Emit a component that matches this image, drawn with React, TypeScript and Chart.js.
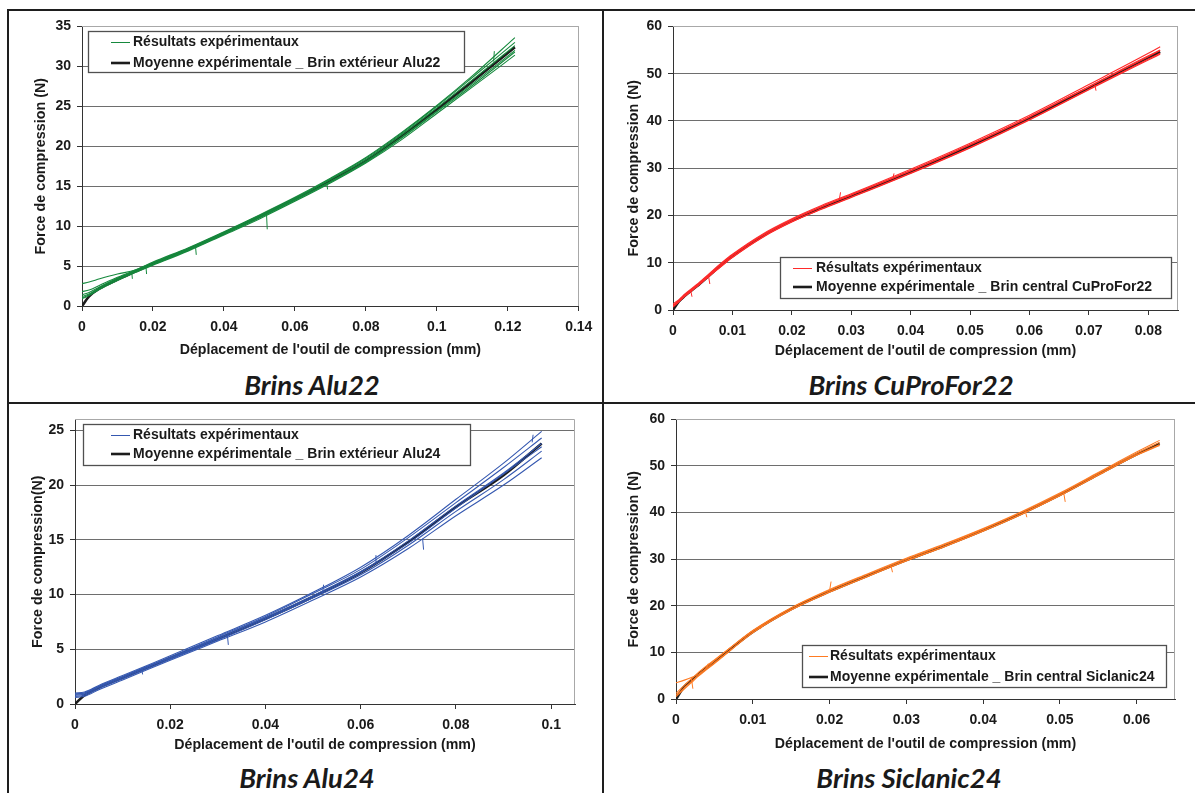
import React, { useEffect, useRef } from "react";
import { Chart, registerables } from "chart.js";
Chart.register(...registerables);

const FONT = "'Liberation Sans', Arial, sans-serif";
const TEXT = "#1a1a1a";

// ---------- Alu22 ----------
const ALU22_X = [0, 0.002, 0.005, 0.01, 0.015, 0.02, 0.03, 0.04, 0.05, 0.06, 0.07, 0.08, 0.09, 0.1, 0.11, 0.122];
const ALU22_MEAN = [0, 1.2, 2.2, 3.3, 4.3, 5.3, 7.1, 9.1, 11.2, 13.4, 15.7, 18.2, 21.3, 24.6, 28.1, 32.4];
const ALU22_EXP_1 = [2.8, 3.0, 3.4, 4.0, 4.5, 5.5, 7.3, 9.3, 11.4, 13.6, 16.0, 18.6, 21.7, 25.1, 28.8, 33.6];
const ALU22_EXP_2 = [1.8, 2.0, 2.6, 3.6, 4.5, 5.4, 7.2, 9.2, 11.3, 13.5, 15.9, 18.5, 21.6, 25.0, 28.6, 33.0];
const ALU22_EXP_3 = [1.4, 1.7, 2.4, 3.5, 4.4, 5.3, 7.1, 9.1, 11.2, 13.4, 15.8, 18.3, 21.4, 24.8, 28.3, 32.6];
const ALU22_EXP_4 = [1.0, 1.4, 2.2, 3.3, 4.3, 5.2, 7.0, 9.0, 11.1, 13.3, 15.6, 18.1, 21.1, 24.4, 27.8, 32.0];
const ALU22_EXP_5 = [0.9, 1.3, 2.1, 3.2, 4.2, 5.1, 6.9, 8.9, 10.9, 13.1, 15.4, 17.9, 20.8, 24.1, 27.4, 31.4];
const ALU22_EXP_6 = [1.2, 1.5, 2.3, 3.4, 4.3, 5.2, 7.0, 9.0, 11.0, 13.2, 15.5, 18.0, 21.0, 24.3, 27.6, 31.8];
const ALU22_SPIKE_X = [0.014, 0.018, 0.032, 0.052, 0.069, 0.116];
const ALU22_SPIKE_FROM = [4.3, 5.0, 7.4, 11.5, 15.4, 30.6];
const ALU22_SPIKE_TO = [3.4, 4.0, 6.4, 9.6, 14.6, 31.9];
const ALU22_X_TICKS = [0, 0.02, 0.04, 0.06, 0.08, 0.1, 0.12, 0.14];
const ALU22_Y_TICKS = [0, 5, 10, 15, 20, 25, 30, 35];

// ---------- CuProFor22 ----------
const CU_X = [0, 0.001, 0.002, 0.004, 0.006, 0.008, 0.01, 0.015, 0.02, 0.025, 0.03, 0.04, 0.05, 0.06, 0.07, 0.08, 0.082];
const CU_MEAN = [0, 1.8, 3.0, 5.0, 7.2, 9.4, 11.4, 15.6, 18.9, 21.6, 24.1, 29.2, 34.7, 40.6, 47.0, 53.4, 54.6];
const CU_EXP_1 = [1.3, 2.2, 3.4, 5.4, 7.6, 9.8, 11.8, 16.0, 19.3, 22.1, 24.6, 29.8, 35.3, 41.2, 47.7, 54.3, 55.7];
const CU_EXP_2 = [0.9, 2.0, 3.2, 5.2, 7.4, 9.6, 11.6, 15.8, 19.1, 21.9, 24.4, 29.5, 35.0, 40.9, 47.3, 53.8, 55.0];
const CU_EXP_3 = [0.6, 1.7, 2.9, 4.9, 7.1, 9.2, 11.2, 15.4, 18.7, 21.4, 23.9, 29.0, 34.4, 40.3, 46.7, 53.1, 54.3];
const CU_EXP_4 = [1.0, 1.9, 3.0, 5.0, 7.0, 9.1, 11.1, 15.3, 18.6, 21.3, 23.8, 28.9, 34.3, 40.2, 46.6, 52.9, 54.1];
const CU_EXP_5 = [0.8, 1.8, 3.1, 5.1, 7.3, 9.5, 11.5, 15.7, 19.0, 21.8, 24.3, 29.4, 34.9, 40.8, 47.2, 53.6, 54.9];
const CU_SPIKE_X = [0.003, 0.006, 0.028, 0.037, 0.071];
const CU_SPIKE_FROM = [4.0, 7.0, 23.4, 27.8, 47.7];
const CU_SPIKE_TO = [2.8, 5.5, 24.9, 28.9, 46.4];
const CU_X_TICKS = [0, 0.01, 0.02, 0.03, 0.04, 0.05, 0.06, 0.07, 0.08];
const CU_Y_TICKS = [0, 10, 20, 30, 40, 50, 60];

// ---------- Alu24 ----------
const ALU24_X = [0, 0.002, 0.005, 0.01, 0.015, 0.02, 0.03, 0.04, 0.05, 0.06, 0.07, 0.08, 0.09, 0.098];
const ALU24_MEAN = [0, 0.8, 1.5, 2.4, 3.3, 4.2, 5.95, 7.8, 9.8, 12.0, 14.8, 18.0, 20.9, 23.8];
const ALU24_EXP_1 = [1.0, 1.1, 1.7, 2.6, 3.5, 4.4, 6.25, 8.1, 10.2, 12.5, 15.4, 18.7, 22.0, 24.9];
const ALU24_EXP_2 = [0.9, 1.0, 1.6, 2.5, 3.4, 4.3, 6.15, 8.0, 10.1, 12.3, 15.2, 18.4, 21.6, 24.3];
const ALU24_EXP_3 = [0.8, 0.9, 1.5, 2.4, 3.3, 4.2, 6.05, 7.9, 9.9, 12.1, 14.9, 18.1, 21.1, 23.8];
const ALU24_EXP_4 = [0.7, 0.8, 1.4, 2.3, 3.2, 4.1, 5.85, 7.7, 9.7, 11.8, 14.5, 17.6, 20.5, 23.1];
const ALU24_EXP_5 = [0.6, 0.7, 1.3, 2.2, 3.1, 4.0, 5.75, 7.5, 9.5, 11.6, 14.2, 17.2, 20.0, 22.5];
const ALU24_EXP_6 = [0.9, 1.0, 1.6, 2.5, 3.4, 4.2, 5.95, 7.8, 9.8, 12.0, 14.7, 17.9, 21.0, 23.5];
const ALU24_SPIKE_X = [0.014, 0.032, 0.052, 0.063, 0.073, 0.096];
const ALU24_SPIKE_FROM = [3.2, 6.3, 10.1, 12.9, 15.1, 23.9];
const ALU24_SPIKE_TO = [2.7, 5.4, 10.9, 13.6, 14.1, 24.6];
const ALU24_X_TICKS = [0, 0.02, 0.04, 0.06, 0.08, 0.1];
const ALU24_Y_TICKS = [0, 5, 10, 15, 20, 25];

// ---------- Siclanic24 ----------
const SIC_X = [0, 0.001, 0.002, 0.003, 0.005, 0.007, 0.01, 0.015, 0.02, 0.025, 0.03, 0.035, 0.04, 0.045, 0.05, 0.055, 0.06, 0.063];
const SIC_MEAN = [0, 2.5, 4.0, 5.4, 8.0, 10.6, 14.4, 19.3, 23.1, 26.5, 29.8, 32.9, 36.2, 39.8, 43.8, 48.2, 52.5, 54.8];
const SIC_EXP_1 = [3.5, 4.0, 4.6, 5.4, 8.2, 10.9, 14.7, 19.6, 23.5, 26.9, 30.2, 33.3, 36.6, 40.2, 44.2, 48.6, 53.0, 55.5];
const SIC_EXP_2 = [1.2, 2.8, 4.3, 5.8, 8.4, 10.9, 14.6, 19.5, 23.3, 26.7, 30.0, 33.1, 36.4, 40.0, 44.0, 48.4, 52.7, 55.1];
const SIC_EXP_3 = [0.5, 2.0, 3.5, 5.0, 7.6, 10.3, 14.2, 19.1, 22.9, 26.3, 29.6, 32.7, 36.0, 39.6, 43.6, 48.0, 52.3, 54.4];
const SIC_EXP_4 = [0.8, 2.3, 3.8, 5.2, 7.8, 10.4, 14.3, 19.2, 23.0, 26.4, 29.7, 32.8, 36.1, 39.7, 43.7, 48.1, 52.4, 54.6];
const SIC_SPIKE_X = [0.002, 0.004, 0.011, 0.02, 0.028, 0.0455, 0.0505];
const SIC_SPIKE_FROM = [4.5, 6.6, 15.0, 23.2, 28.6, 40.3, 44.3];
const SIC_SPIKE_TO = [2.2, 7.6, 15.9, 25.2, 27.2, 39.0, 42.3];
const SIC_X_TICKS = [0, 0.01, 0.02, 0.03, 0.04, 0.05, 0.06];
const SIC_Y_TICKS = [0, 10, 20, 30, 40, 50, 60];

const EXP_LABEL = "Résultats expérimentaux";
const X_TITLE = "Déplacement de l'outil de compression (mm)";

type Rect = { l: number; t: number; r: number; b: number };
type Panel = {
  color: string;
  xs: number[];
  mean: number[];
  exps: number[][];
  spikeX: number[];
  spikeFrom: number[];
  spikeTo: number[];
  xTicks: number[];
  yTicks: number[];
  xMax: number;
  yMax: number;
  meanLabel: string;
  yTitle: string;
  canvas: Rect;
  plot: Rect;
  yTitleX: number;
  xTitleY: number;
  legend: { box: Rect; rowY: number[]; sample: [number, number]; textX: number };
  caption: string;
  captionX: number;
  captionY: number;
};

const PANELS: Panel[] = [
  {
    color: "#16893d",
    xs: ALU22_X, mean: ALU22_MEAN,
    exps: [ALU22_EXP_1, ALU22_EXP_2, ALU22_EXP_3, ALU22_EXP_4, ALU22_EXP_5, ALU22_EXP_6],
    spikeX: ALU22_SPIKE_X, spikeFrom: ALU22_SPIKE_FROM, spikeTo: ALU22_SPIKE_TO,
    xTicks: ALU22_X_TICKS, yTicks: ALU22_Y_TICKS, xMax: 0.14, yMax: 35,
    meanLabel: "Moyenne expérimentale _ Brin extérieur Alu22",
    yTitle: "Force de compression (N)",
    canvas: { l: 10, t: 12, r: 600, b: 362 },
    plot: { l: 82, t: 25, r: 582, b: 306 },
    yTitleX: 41, xTitleY: 350,
    legend: { box: { l: 88, t: 31, r: 464, b: 72 }, rowY: [42, 63], sample: [111, 130], textX: 133 },
    caption: "Brins Alu22", captionX: 312, captionY: 385,
  },
  {
    color: "#ff2a2a",
    xs: CU_X, mean: CU_MEAN,
    exps: [CU_EXP_1, CU_EXP_2, CU_EXP_3, CU_EXP_4, CU_EXP_5],
    spikeX: CU_SPIKE_X, spikeFrom: CU_SPIKE_FROM, spikeTo: CU_SPIKE_TO,
    xTicks: CU_X_TICKS, yTicks: CU_Y_TICKS, xMax: 0.085, yMax: 60,
    meanLabel: "Moyenne expérimentale _ Brin central CuProFor22",
    yTitle: "Force de compression (N)",
    canvas: { l: 605, t: 12, r: 1193, b: 363 },
    plot: { l: 673, t: 25, r: 1178, b: 310 },
    yTitleX: 634, xTitleY: 351,
    legend: { box: { l: 780, t: 257, r: 1171, b: 298 }, rowY: [268, 287], sample: [793, 812], textX: 816 },
    caption: "Brins CuProFor22", captionX: 911, captionY: 385,
  },
  {
    color: "#3558b0",
    xs: ALU24_X, mean: ALU24_MEAN,
    exps: [ALU24_EXP_1, ALU24_EXP_2, ALU24_EXP_3, ALU24_EXP_4, ALU24_EXP_5, ALU24_EXP_6],
    spikeX: ALU24_SPIKE_X, spikeFrom: ALU24_SPIKE_FROM, spikeTo: ALU24_SPIKE_TO,
    xTicks: ALU24_X_TICKS, yTicks: ALU24_Y_TICKS, xMax: 0.105, yMax: 26,
    meanLabel: "Moyenne expérimentale _ Brin extérieur Alu24",
    yTitle: "Force de compression(N)",
    canvas: { l: 10, t: 405, r: 600, b: 757 },
    plot: { l: 75, t: 418, r: 575, b: 704 },
    yTitleX: 38, xTitleY: 745,
    legend: { box: { l: 83, t: 424, r: 470, b: 465 }, rowY: [435, 454], sample: [111, 130], textX: 133 },
    caption: "Brins Alu24", captionX: 307, captionY: 778,
  },
  {
    color: "#ff7b22",
    xs: SIC_X, mean: SIC_MEAN,
    exps: [SIC_EXP_1, SIC_EXP_2, SIC_EXP_3, SIC_EXP_4],
    spikeX: SIC_SPIKE_X, spikeFrom: SIC_SPIKE_FROM, spikeTo: SIC_SPIKE_TO,
    xTicks: SIC_X_TICKS, yTicks: SIC_Y_TICKS, xMax: 0.065, yMax: 60,
    meanLabel: "Moyenne expérimentale _ Brin central Siclanic24",
    yTitle: "Force de compression (N)",
    canvas: { l: 605, t: 405, r: 1193, b: 756 },
    plot: { l: 676, t: 418, r: 1175, b: 699 },
    yTitleX: 634, xTitleY: 744,
    legend: { box: { l: 802, t: 645, r: 1166, b: 687 }, rowY: [656, 677], sample: [809, 828], textX: 830 },
    caption: "Brins Siclanic24", captionX: 909, captionY: 778,
  },
];

const TICK_SIZE = 14;
const X_TITLE_SIZE = 14.2;
const Y_TITLE_SIZE = 14.3;
const LEGEND_SIZE = 14;

function fmt(v: number): string {
  return v === 0 ? "0" : String(Number(v.toFixed(4)));
}

function PanelChart({ p }: { p: Panel }) {
  const ref = useRef<HTMLCanvasElement | null>(null);
  const c = p.canvas;
  const P = p.plot;
  const w = c.r - c.l;
  const h = c.b - c.t;

  useEffect(() => {
    if (!ref.current) return;
    const datasets: any[] = [];
    p.exps.forEach((ys, i) => {
      datasets.push({
        label: i === 0 ? EXP_LABEL : "",
        legendRow: i === 0 ? 0 : undefined,
        data: p.xs.map((x, j) => ({ x, y: ys[j] })),
        borderColor: p.color,
        borderWidth: 1.1,
        pointRadius: 0,
        tension: 0.4,
        cubicInterpolationMode: "monotone",
        fill: false,
      });
    });
    const spikeData: any[] = [];
    p.spikeX.forEach((x, i) => {
      spikeData.push({ x, y: p.spikeFrom[i] });
      spikeData.push({ x: x + 0.0002, y: p.spikeTo[i] });
      spikeData.push({ x: x + 0.0003, y: null });
    });
    datasets.push({
      label: "",
      data: spikeData,
      borderColor: p.color,
      borderWidth: 1,
      pointRadius: 0,
      spanGaps: false,
      fill: false,
    });
    datasets.push({
      label: p.meanLabel,
      legendRow: 1,
      data: p.xs.map((x, j) => ({ x, y: p.mean[j] })),
      borderColor: "#1c1c1c",
      borderWidth: 2.6,
      pointRadius: 0,
      tension: 0.4,
      cubicInterpolationMode: "monotone",
      fill: false,
    });

    const tickFont = { family: FONT, size: TICK_SIZE, weight: "bold" as const };
    const xTitleFont = { family: FONT, size: X_TITLE_SIZE, weight: "bold" as const };
    const yTitleFont = { family: FONT, size: Y_TITLE_SIZE, weight: "bold" as const };

    const plotBorder = {
      id: "plotBorder",
      beforeDatasetsDraw(chart: any) {
        const { ctx, chartArea } = chart;
        const { left, top, right, bottom } = chartArea;
        ctx.save();
        ctx.strokeStyle = "#a8a8a8";
        ctx.lineWidth = 1;
        ctx.beginPath();
        ctx.moveTo(left, Math.round(top) + 0.5);
        ctx.lineTo(Math.round(right) - 0.5, Math.round(top) + 0.5);
        ctx.lineTo(Math.round(right) - 0.5, bottom);
        ctx.stroke();
        ctx.restore();
      },
    };

    const boxLegend = {
      id: "boxLegend",
      afterDatasetsDraw(chart: any) {
        const ctx = chart.ctx;
        const L = p.legend;
        const x1 = Math.round(L.box.l - c.l) + 0.5;
        const y1 = Math.round(L.box.t - c.t) + 0.5;
        const bw = Math.round(L.box.r - L.box.l);
        const bh = Math.round(L.box.b - L.box.t);
        ctx.save();
        ctx.fillStyle = "#ffffff";
        ctx.fillRect(x1, y1, bw, bh);
        ctx.strokeStyle = "#505050";
        ctx.lineWidth = 1.3;
        ctx.strokeRect(x1, y1, bw, bh);
        const items = chart.data.datasets.filter((d: any) => d.legendRow !== undefined);
        items.forEach((d: any) => {
          const y = L.rowY[d.legendRow] - c.t;
          const thin = d.borderWidth < 2;
          ctx.strokeStyle = d.borderColor;
          ctx.lineWidth = thin ? 1 : 2.6;
          ctx.beginPath();
          ctx.moveTo(L.sample[0] - c.l, Math.round(y) + (thin ? 0.5 : 0));
          ctx.lineTo(L.sample[1] - c.l, Math.round(y) + (thin ? 0.5 : 0));
          ctx.stroke();
          ctx.fillStyle = TEXT;
          ctx.font = `bold ${LEGEND_SIZE}px ${FONT}`;
          ctx.textBaseline = "middle";
          ctx.textAlign = "left";
          ctx.fillText(d.label, L.textX - c.l, y + 0.5);
        });
        ctx.restore();
      },
    };

    const chart = new Chart(ref.current, {
      type: "line",
      data: { datasets },
      options: {
        animation: false,
        responsive: false,
        devicePixelRatio: 1,
        events: [],
        layout: { padding: { left: 0, top: P.t - c.t, right: c.r - P.r, bottom: 0 } },
        plugins: { legend: { display: false }, tooltip: { enabled: false } },
        scales: {
          x: {
            type: "linear",
            min: 0,
            max: p.xMax,
            afterBuildTicks: (s: any) => {
              s.ticks = p.xTicks.map((v) => ({ value: v }));
            },
            afterFit: (s: any) => {
              s.height = c.b - P.b;
            },
            grid: { drawOnChartArea: false, drawTicks: true, tickLength: 5, tickColor: "#333", color: "#333" },
            border: { display: true, color: "#333", width: 1 },
            ticks: {
              font: tickFont,
              color: TEXT,
              padding: 7.6,
              maxRotation: 0,
              autoSkip: false,
              callback: (v: any) => fmt(Number(v)),
            },
            title: {
              display: true,
              text: X_TITLE,
              font: xTitleFont,
              color: TEXT,
              padding: { top: 0, bottom: c.b - p.xTitleY - (X_TITLE_SIZE * 1.2) / 2 },
            },
          },
          y: {
            type: "linear",
            min: 0,
            max: p.yMax,
            afterBuildTicks: (s: any) => {
              s.ticks = p.yTicks.map((v) => ({ value: v }));
            },
            afterFit: (s: any) => {
              s.width = P.l - c.l;
            },
            grid: {
              color: (ctx: any) => (ctx.tick && ctx.tick.value === p.yMax ? "#a8a8a8" : "#6e6e6e"),
              tickColor: "#333",
              tickLength: 5,
              drawTicks: true,
            },
            border: { display: true, color: "#333", width: 1 },
            ticks: {
              font: tickFont,
              color: TEXT,
              padding: 6,
              autoSkip: false,
              callback: (v: any) => fmt(Number(v)),
            },
            title: {
              display: true,
              text: p.yTitle,
              font: yTitleFont,
              color: TEXT,
              padding: { top: p.yTitleX - c.l - (Y_TITLE_SIZE * 1.2) / 2, bottom: 0 },
            },
          },
        },
      } as any,
      plugins: [plotBorder, boxLegend],
    });
    return () => chart.destroy();
  }, []);

  return (
    <canvas
      ref={ref}
      width={w}
      height={h}
      style={{ position: "absolute", left: c.l, top: c.t, width: w, height: h }}
    />
  );
}

export default function App() {
  const line = (l: number, t: number, w: number, h: number) => (
    <div style={{ position: "absolute", left: l, top: t, width: w, height: h, background: "#1e1e1e" }} />
  );
  return (
    <div style={{ position: "fixed", left: 0, top: 0, width: 1195, height: 793, background: "#ffffff", overflow: "hidden" }}>
      {line(7, 9, 1188, 2)}
      {line(7, 9, 2, 784)}
      {line(602, 9, 2, 784)}
      {line(7, 402, 1188, 2)}
      {PANELS.map((p, i) => (
        <PanelChart key={i} p={p} />
      ))}
      {PANELS.map((p, i) => (
        <div
          key={"c" + i}
          style={{
            position: "absolute",
            left: p.captionX,
            top: p.captionY,
            transform: "translate(-50%, -50%)",
            fontFamily: "Lato, 'Open Sans', sans-serif",
            fontStyle: "italic",
            fontWeight: 700,
            fontSize: 27.5,
            lineHeight: "32px",
            color: "#1a1a1a",
            whiteSpace: "nowrap",
          }}
        >
          {p.caption}
        </div>
      ))}
    </div>
  );
}
